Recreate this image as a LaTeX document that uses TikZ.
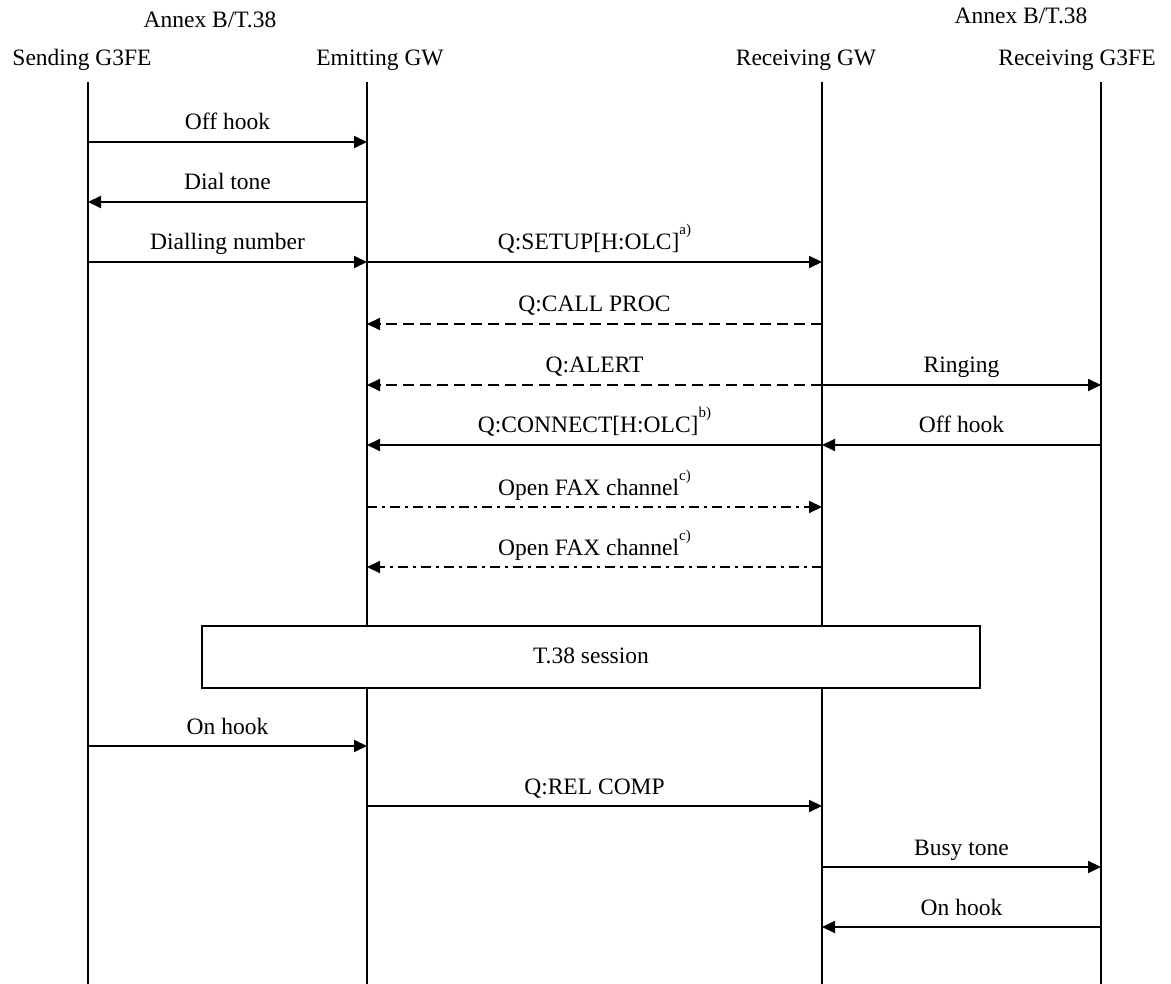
\documentclass[tikz,border=0pt]{standalone}
\usepackage{fontspec}
\setmainfont{Liberation Serif}
\usetikzlibrary{arrows.meta}
\begin{document}
\begin{tikzpicture}[x=1pt,y=-1pt,
  every node/.style={font=\fontsize{23.5}{28}\selectfont, inner sep=0pt},
  life/.style={line width=2pt},
  msg/.style={line width=2pt,-{Triangle[length=13pt,width=12pt]}},
  dsh/.style={msg, dash pattern=on 11pt off 6pt},
  dd/.style={msg, dash pattern=on 10pt off 5pt on 3pt off 5pt},
  lbl/.style={midway, above=6pt, text height=17pt, text depth=5pt}
]
\useasboundingbox (0,0) rectangle (1171,984);
\newcommand{\supx}[1]{\raisebox{15pt}{\fontsize{15}{15}\selectfont #1}}
% lifeline coordinates
\coordinate (S) at (88,82);  \coordinate (Sb) at (88,984);
\coordinate (E) at (367,82); \coordinate (Eb) at (367,984);
\coordinate (R) at (822,82); \coordinate (Rb) at (822,984);
\coordinate (G) at (1101,82);\coordinate (Gb) at (1101,984);
% headers
\node[anchor=base] (a1) at (210,28) {Annex B/T.38};
\node[anchor=base] (a2) at (1021,24) {Annex B/T.38};
\node[anchor=base] (hS) at (82,66) {Sending G3FE};
\node[anchor=base] (hE) at (380,66) {Emitting GW};
\node[anchor=base] (hR) at (806,66) {Receiving GW};
\node[anchor=base] (hG) at (1077,66) {Receiving G3FE};
% lifelines
\draw[life] (S) -- (Sb);
\draw[life] (E) -- (Eb);
\draw[life] (R) -- (Rb);
\draw[life] (G) -- (Gb);
% messages
\draw[msg] (S |- 0,142) -- node[lbl] {Off hook} (E |- 0,142);
\draw[msg] (E |- 0,202) -- node[lbl] {Dial tone} (S |- 0,202);
\draw[msg] (S |- 0,262) -- node[lbl] {Dialling number} (E |- 0,262);
\draw[msg] (E |- 0,262) -- node[lbl] {Q:SETUP[H:OLC]\supx{a)}} (R |- 0,262);
\draw[dsh] (R |- 0,324) -- node[lbl] {Q:CALL PROC} (E |- 0,324);
\draw[dsh] (R |- 0,385) -- node[lbl] {Q:ALERT} (E |- 0,385);
\draw[msg] (R |- 0,385) -- node[lbl] {Ringing} (G |- 0,385);
\draw[msg] (R |- 0,445) -- node[lbl] {Q:CONNECT[H:OLC]\supx{b)}} (E |- 0,445);
\draw[msg] (G |- 0,445) -- node[lbl] {Off hook} (R |- 0,445);
\draw[dd] (E |- 0,507) -- node[lbl] {Open FAX channel\supx{c)}} (R |- 0,507);
\draw[dd] (R |- 0,567) -- node[lbl] {Open FAX channel\supx{c)}} (E |- 0,567);
% session box
\node[draw, fill=white, line width=2pt, minimum width=778pt, minimum height=62pt, text height=17pt, text depth=5pt] (box) at (591,657) {T.38 session};
\draw[msg] (S |- 0,746) -- node[lbl] {On hook} (E |- 0,746);
\draw[msg] (E |- 0,806) -- node[lbl] {Q:REL COMP} (R |- 0,806);
\draw[msg] (R |- 0,867) -- node[lbl] {Busy tone} (G |- 0,867);
\draw[msg] (G |- 0,927) -- node[lbl] {On hook} (R |- 0,927);
\end{tikzpicture}
\end{document}
